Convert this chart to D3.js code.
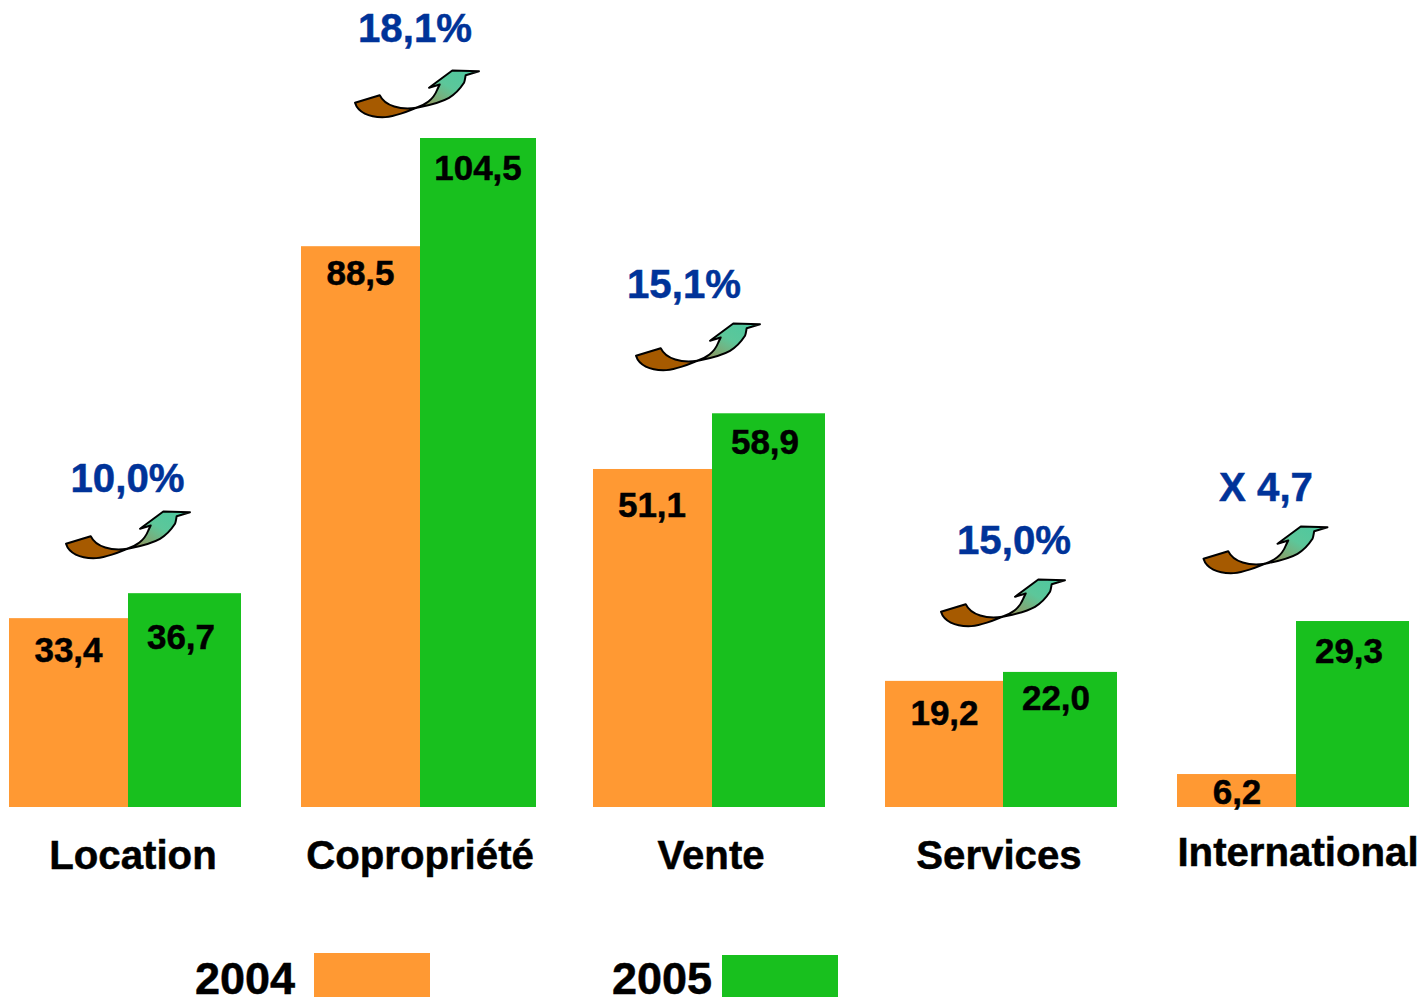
<!DOCTYPE html>
<html><head><meta charset="utf-8">
<script src="https://cdn.jsdelivr.net/npm/d3@7"></script>
<style>html,body{margin:0;padding:0;background:#fff;overflow:hidden}svg{display:block}text{font-family:"Liberation Sans",Arial,sans-serif;font-weight:700}</style>
</head><body><script>
const categories = ["Location","Copropriété","Vente","Services","International"];
const years = ["2004","2005"];
const labels2004 = ["33,4","88,5","51,1","19,2","6,2"];
const labels2005 = ["36,7","104,5","58,9","22,0","29,3"];
// Bar lengths as drawn in the picture (not strictly proportional to the printed labels)
const drawn2004 = [29.5,87.6,52.8,19.7,5.15];
const drawn2005 = [33.4,104.5,61.5,21.1,29.05];
const growth = ["10,0%","18,1%","15,1%","15,0%","X 4,7"];

// layout
const W=1423,H=997,baseY=807,topY=138;
const c2004="#FF9933",c2005="#18C01E",blue="#003399";
const y=d3.scaleLinear().domain([0,104.5]).range([baseY,topY]);
const x=d3.scaleBand().domain(categories).range([9,1409]).paddingInner(60/292).paddingOuter(0);
const layout={
  orangeW:[119,119,119,118,119],
  greenW:[113,116,113,114,113],
  lab04:[[68.5,662],[360.5,285],[652,517],[944.5,725],[1237,804]],
  lab05:[[181,649],[478,180],[765,454],[1056,710],[1349,663]],
  cat:[[133,869],[420,869],[711,869],[999,869],[1298,866]],
  pct:[[127.5,492],[415,42],[684,298],[1014,554],[1266,501]],
  arrow:[[66,511.5],[355,70.5],[636,323.5],[941,579.5],[1203.5,526.5]]
};
const svg=d3.select("body").append("svg").attr("width",W).attr("height",H).attr("viewBox",`0 0 ${W} ${H}`);
const defs=svg.append("defs");
const g=defs.append("linearGradient").attr("id","arrowGrad").attr("x1",0).attr("y1",1).attr("x2",1).attr("y2",0);
g.append("stop").attr("offset",0).attr("stop-color","#A08A50");
g.append("stop").attr("offset",.55).attr("stop-color","#5CC79A");
g.append("stop").attr("offset",1).attr("stop-color","#4CC8A0");

const rows=categories.map((c,i)=>({c,i}));
svg.selectAll("rect.o").data(rows).join("rect").attr("class","o")
  .attr("x",d=>x(d.c)).attr("width",d=>layout.orangeW[d.i])
  .attr("y",d=>y(drawn2004[d.i])).attr("height",d=>baseY-y(drawn2004[d.i])).attr("fill",c2004);
svg.selectAll("rect.g").data(rows).join("rect").attr("class","g")
  .attr("x",d=>x(d.c)+layout.orangeW[d.i]).attr("width",d=>layout.greenW[d.i])
  .attr("y",d=>y(drawn2005[d.i])).attr("height",d=>baseY-y(drawn2005[d.i])).attr("fill",c2005);

function texts(arr,pos,size,fill){
  svg.append("g").selectAll("text").data(arr).join("text")
    .attr("x",(d,i)=>pos[i][0]).attr("y",(d,i)=>pos[i][1])
    .attr("text-anchor","middle").attr("font-size",size).attr("fill",fill)
    .attr("stroke",fill).attr("stroke-width",0.5).text(d=>d);
}
texts(labels2004,layout.lab04,35,"#000");
texts(labels2005,layout.lab05,35,"#000");
texts(categories,layout.cat,40.2,"#000");
texts(growth,layout.pct,40.2,blue);

const brownPath="M0,32.3 L24.7,24.7 C30,36 46,39.5 61.3,37.3 C50,42 38,46.7 27.3,46.7 C14,46.7 3,42 0,32.3 Z";
const greenPath="M61.3,37.3 C70,34 78,30 82.3,19 L84.7,14 L74,17.3 L97.3,0 L124,0.7 L110.7,4.7 C110,8 110,10 109,12.3 C104,20 98,25 94,27.3 C84,33 72,35 61.3,37.3 Z";
const arrows=svg.append("g").selectAll("g").data(growth).join("g")
  .attr("transform",(d,i)=>`translate(${layout.arrow[i][0]},${layout.arrow[i][1]})`);
arrows.append("path").attr("d",brownPath).attr("fill","#A65A00").attr("stroke","#000").attr("stroke-width",2).attr("stroke-linejoin","round");
arrows.append("path").attr("d",greenPath).attr("fill","url(#arrowGrad)").attr("stroke","#000").attr("stroke-width",2).attr("stroke-linejoin","round");

// legend
const leg=[{t:years[0],x:245,r:314,top:953,f:c2004},{t:years[1],x:662,r:722,top:955,f:c2005}];
leg.forEach(l=>{
  svg.append("text").attr("x",l.x).attr("y",994).attr("text-anchor","middle").attr("font-size",45).attr("fill","#000").attr("stroke","#000").attr("stroke-width",0.5).text(l.t);
  svg.append("rect").attr("x",l.r).attr("y",l.top).attr("width",116).attr("height",997-l.top).attr("fill",l.f);
});
</script></body></html>
